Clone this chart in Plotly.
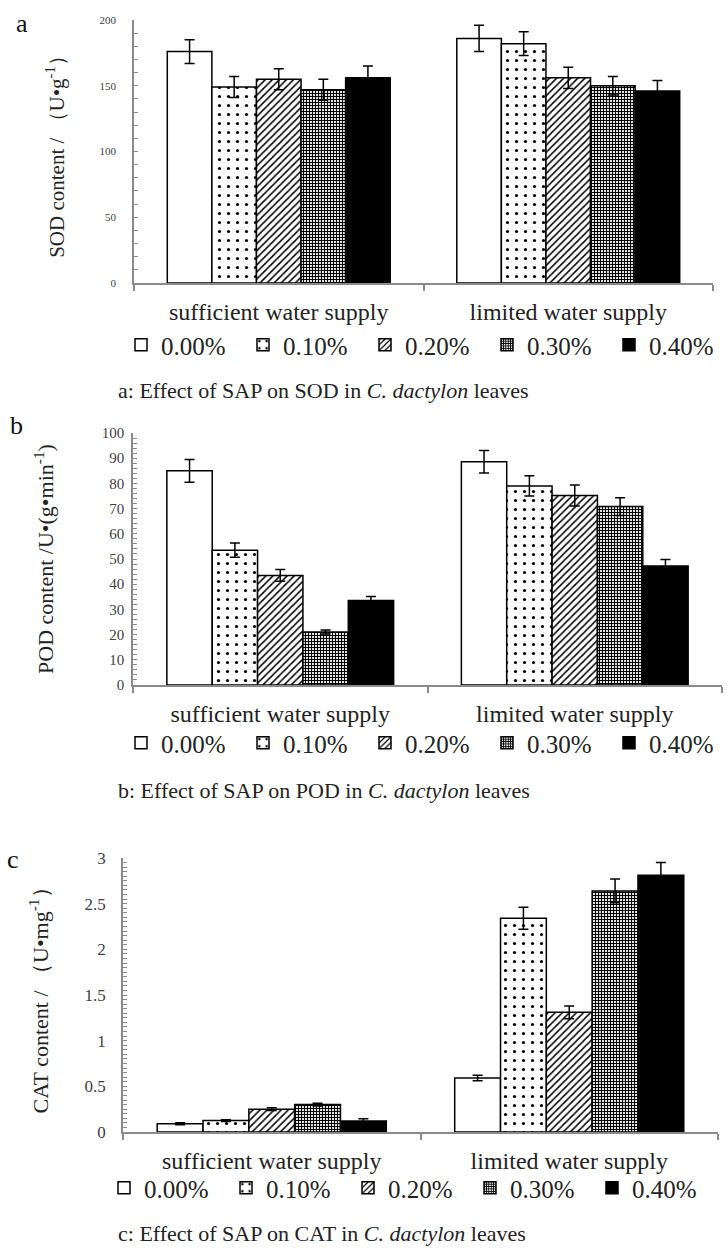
import plotly.graph_objects as go

W, H = 727, 1253

groups = ["sufficient water supply", "limited water supply"]
levels = ["0.00%", "0.10%", "0.20%", "0.30%", "0.40%"]

sod_suff = [176, 149, 155, 147, 156]
sod_suff_err = [9, 8, 8, 8, 9]
sod_lim = [186, 182, 156, 150, 146]
sod_lim_err = [10, 9, 8, 7, 8]

pod_suff = [85, 53.5, 43.5, 21, 33.5]
pod_suff_err = [4.5, 2.8, 2.3, 0.8, 1.6]
pod_lim = [88.6, 79, 75.2, 70.8, 47.2]
pod_lim_err = [4.5, 4.0, 4.2, 3.5, 2.6]

cat_suff = [0.09, 0.125, 0.25, 0.30, 0.12]
cat_suff_err = [0.01, 0.01, 0.015, 0.015, 0.025]
cat_lim = [0.59, 2.34, 1.31, 2.64, 2.81]
cat_lim_err = [0.03, 0.12, 0.07, 0.13, 0.14]

FONT = "Liberation Serif"
GRAY = "#8a8a8a"

patterns = [
    dict(fillmode="replace", shape="", bgcolor="white"),
    dict(fillmode="replace", shape=".", fgcolor="black", bgcolor="white", size=9, solidity=0.1),
    dict(fillmode="replace", shape="/", fgcolor="black", bgcolor="white", size=5, solidity=0.3),
    dict(fillmode="replace", shape="+", fgcolor="black", bgcolor="white", size=3, solidity=0.65),
    dict(fillmode="replace", shape="", bgcolor="black"),
]
colors = ["white", "white", "white", "white", "black"]


def xd(px):
    return px / W


def yd(py):
    return 1 - py / H


fig = go.Figure()

panels = [
    ("x", "y", "legend", sod_suff, sod_lim, sod_suff_err, sod_lim_err),
    ("x2", "y2", "legend2", pod_suff, pod_lim, pod_suff_err, pod_lim_err),
    ("x3", "y3", "legend3", cat_suff, cat_lim, cat_suff_err, cat_lim_err),
]

for xa, ya, lg, suff, lim, se, le in panels:
    for i, lev in enumerate(levels):
        fig.add_trace(go.Bar(
            x=groups, y=[suff[i], lim[i]], name=lev,
            xaxis=xa, yaxis=ya, legend=lg,
            marker=dict(color=colors[i], pattern=patterns[i],
                        line=dict(color="black", width=1.5)),
            error_y=dict(type="data", array=[se[i], le[i]], color="black",
                         thickness=1.5, width=5),
        ))

xaxis_common = dict(
    showline=True, linecolor=GRAY, linewidth=1.5, automargin=False,
    ticks="outside", tickson="boundaries", ticklen=6, tickcolor=GRAY, tickwidth=1.5,
    tickfont=dict(family=FONT, size=24, color="#222"),
    ticklabelstandoff=6,
)


def yaxis(rng, dtick, minor_dt, fsize, lstand, title, tsize, standoff):
    return dict(
        range=rng, dtick=dtick, showgrid=False, zeroline=False, automargin=False,
        showline=True, linecolor=GRAY, linewidth=1.5,
        ticks="inside", ticklen=4, tickcolor=GRAY, tickwidth=1,
        minor=dict(dtick=minor_dt, ticks="inside", ticklen=4, tickcolor=GRAY, showgrid=False),
        tickfont=dict(family=FONT, size=fsize, color="#404040"),
        ticklabelstandoff=lstand,
        title=dict(text=title, font=dict(family=FONT, size=tsize, color="#222"), standoff=standoff),
    )


legend_common = dict(
    orientation="h", xanchor="left", yanchor="middle",
    font=dict(family=FONT, size=25, color="#222"),
    bgcolor="rgba(0,0,0,0)", entrywidth=77, itemwidth=30, traceorder="normal",
)

fig.update_layout(
    width=W, height=H, autosize=False,
    margin=dict(l=0, r=0, t=0, b=0, autoexpand=False),
    paper_bgcolor="white", plot_bgcolor="white",
    barmode="group", bargap=0.23, bargroupgap=0,
    xaxis=dict(**xaxis_common, anchor="y", domain=[xd(134), xd(713)]),
    yaxis=dict(**yaxis([0, 200], 50, 10, 11, 14, "SOD content / （U•g<sup>-1</sup>）", 21, 29),
               domain=[yd(283), yd(20)], anchor="x"),
    xaxis2=dict(**xaxis_common, anchor="y2", domain=[xd(133), xd(722)]),
    yaxis2=dict(**yaxis([0, 100], 10, 2, 15, 4, "POD content /U•(g•min<sup>-1</sup>)", 22, 42),
                domain=[yd(685), yd(433)], anchor="x2"),
    xaxis3=dict(**xaxis_common, anchor="y3", domain=[xd(123), xd(718)]),
    yaxis3=dict(**yaxis([0, 3], 0.5, 0.05, 17, 12, "CAT content / （U•mg<sup>-1</sup>）", 22, 30),
                domain=[yd(1132), yd(858)], anchor="x3"),
    legend=dict(**legend_common, x=xd(121), y=yd(345)),
    legend2=dict(**legend_common, x=xd(121), y=yd(743)),
    legend3=dict(**legend_common, x=xd(104), y=yd(1188)),
    showlegend=True,
)

captions = [
    ("a: Effect of SAP on SOD in <i>C. dactylon</i> leaves", 390),
    ("b: Effect of SAP on POD in <i>C. dactylon</i> leaves", 790),
    ("c: Effect of SAP on CAT in <i>C. dactylon</i> leaves", 1233),
]
for txt, py in captions:
    fig.add_annotation(text=txt, x=xd(116), y=yd(py), xref="paper", yref="paper",
                       xanchor="left", yanchor="middle", showarrow=False,
                       font=dict(family=FONT, size=22, color="#222"))

for letter, px, py in [("a", 22, 24), ("b", 16, 425), ("c", 13, 859)]:
    fig.add_annotation(text=letter, x=xd(px), y=yd(py), xref="paper", yref="paper",
                       xanchor="center", yanchor="middle", showarrow=False,
                       font=dict(family=FONT, size=26, color="#111"))

fig.write_html("out.html", config={"displayModeBar": False},
               post_script="document.body.style.margin='0';document.body.style.overflow='hidden';")
